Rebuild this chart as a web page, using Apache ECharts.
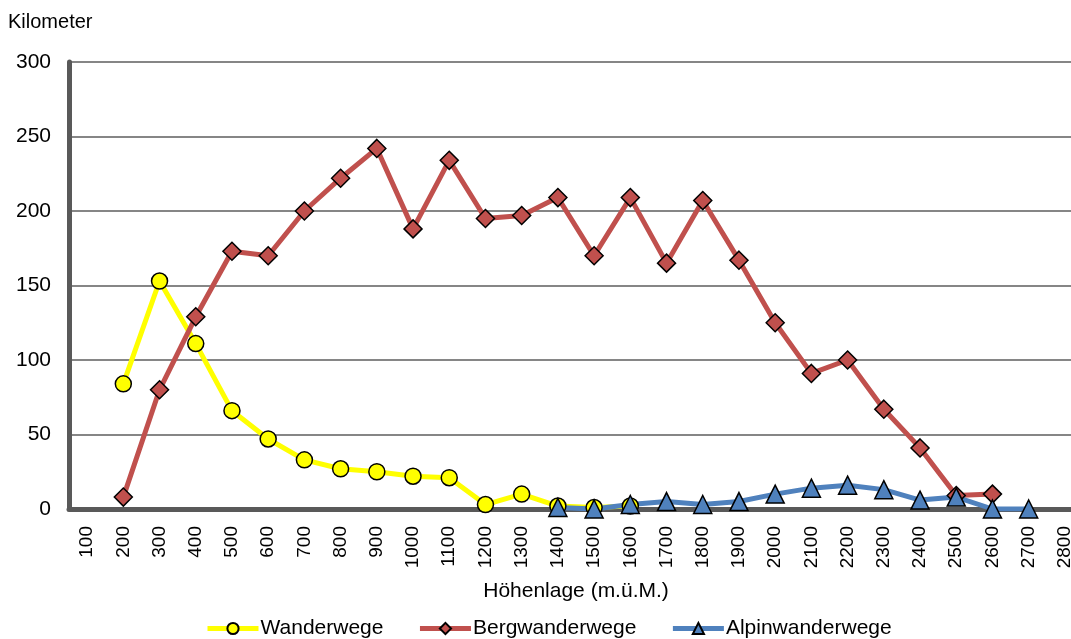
<!DOCTYPE html>
<html>
<head>
    <meta charset="UTF-8">
    <title>Wanderwege nach Höhenlage</title>
    <script src="https://cdn.jsdelivr.net/npm/echarts@6/dist/echarts.min.js"></script>
    <style>
        body {
            margin: 0;
            background: #fff;
        }
        #chart {
            width: 1071px;
            height: 639px;
        }
    </style>
</head>
<body>
    <div id="chart"></div>
    <script>
        // Höhenlage (m.ü.M.)
        var hoehen = ['100', '200', '300', '400', '500', '600', '700', '800', '900', '1000',
            '1100', '1200', '1300', '1400', '1500', '1600', '1700', '1800', '1900', '2000',
            '2100', '2200', '2300', '2400', '2500', '2600', '2700', '2800'];

        // Kilometer je Wegkategorie
        var wanderwege = [null, 84, 153, 111, 66, 47, 33, 27, 25, 22,
            21, 3, 10, 2, 1, 2, null, null, null, null,
            null, null, null, null, null, null, null, null];
        var bergwanderwege = [null, 8, 80, 129, 173, 170, 200, 222, 242, 188,
            234, 195, 197, 209, 170, 209, 165, 207, 167, 125,
            91, 100, 67, 41, 9, 10, null, null];
        var alpinwanderwege = [null, null, null, null, null, null, null, null, null, null,
            null, null, null, 1, 0, 3, 5, 3, 5, 10,
            14, 16, 13, 6, 8, 0, 0, null];

        var yTicks = [0, 50, 100, 150, 200, 250, 300];

        var chart = echarts.init(document.getElementById('chart'));

        var fontFam = '"Liberation Sans", Arial, sans-serif';

        function lineSeries(name, data, color, symbol, size) {
            return {
                name: name,
                type: 'line',
                data: data,
                symbol: symbol,
                symbolSize: size,
                lineStyle: { color: color, width: 5 },
                itemStyle: { color: color, borderColor: '#000', borderWidth: 1.5 },
                emphasis: { disabled: true }
            };
        }

        var option = {
            animation: false,
            backgroundColor: '#fff',
            textStyle: { fontFamily: fontFam },
            grid: {
                left: 69,
                width: 1014,
                top: 62,
                bottom: 130,
                outerBoundsMode: 'none',
                containLabel: false
            },
            legend: {
                bottom: -5,
                left: 200,
                itemWidth: 51,
                itemHeight: 14,
                itemGap: 34,
                lineStyle: { width: 5 },
                textStyle: { fontSize: 21, color: '#000', fontFamily: fontFam, padding: [0, 0, 0, -3] },
                data: ['Wanderwege', 'Bergwanderwege', 'Alpinwanderwege']
            },
            xAxis: {
                type: 'category',
                data: hoehen,
                boundaryGap: true,
                name: 'Höhenlage (m.ü.M.)',
                nameLocation: 'middle',
                nameGap: 72,
                nameTextStyle: { fontSize: 21, color: '#000' },
                axisLine: { lineStyle: { color: '#595959', width: 5 } },
                axisTick: { show: false },
                axisLabel: {
                    rotate: 90,
                    interval: 0,
                    fontSize: 19,
                    color: '#000',
                    margin: 17
                },
                splitLine: { show: false }
            },
            yAxis: {
                type: 'value',
                min: yTicks[0],
                max: yTicks[yTicks.length - 1],
                interval: 50,
                name: 'Kilometer',
                nameLocation: 'end',
                nameGap: 30,
                nameTextStyle: { fontSize: 20, color: '#000', align: 'left', padding: [0, 0, 0, -61] },
                axisLine: { show: true, lineStyle: { color: '#595959', width: 5 } },
                axisTick: { show: false },
                axisLabel: { fontSize: 21, color: '#000', margin: 18 },
                splitLine: { lineStyle: { color: '#868686', width: 2 } }
            },
            series: [
                lineSeries('Wanderwege', wanderwege, '#ffff00', 'circle', 16),
                lineSeries('Bergwanderwege', bergwanderwege, '#c0504d', 'diamond', 18),
                lineSeries('Alpinwanderwege', alpinwanderwege, '#4f81bd', 'triangle', 18)
            ]
        };

        chart.setOption(option);
    </script>
</body>
</html>
